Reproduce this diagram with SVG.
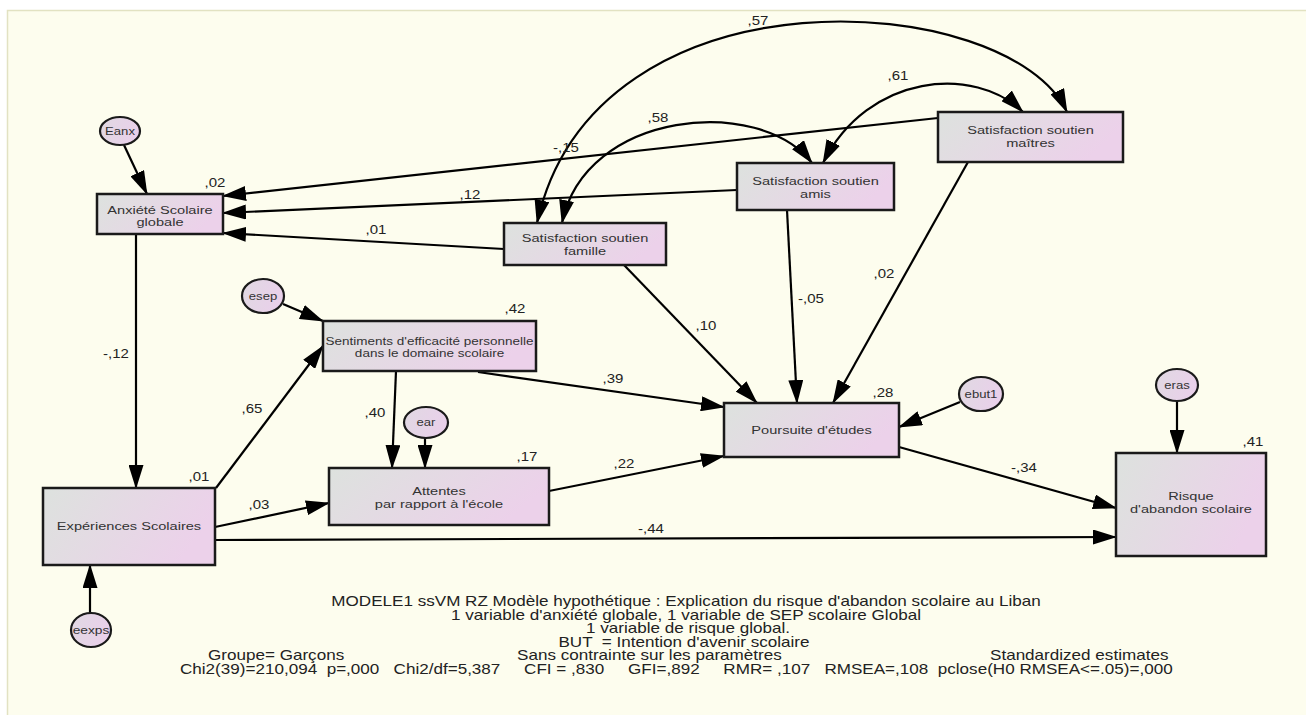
<svg xmlns="http://www.w3.org/2000/svg" width="1306" height="715" viewBox="0 0 1306 715">
<style>
text{font-family:"Liberation Sans",Arial,sans-serif;}
.box{stroke:#1a1a1a;stroke-width:2.5;fill:url(#gb);}
.ell{stroke:#1a1a1a;stroke-width:2.2;fill:url(#ge);}
.lbl{font-size:11.5px;fill:#333;text-anchor:middle;}
.lbs{font-size:10.8px;fill:#333;text-anchor:middle;}
.el{font-size:10.5px;fill:#333;text-anchor:middle;}
.coef{font-size:12.5px;fill:#222;text-anchor:middle;}
.cap{font-size:14px;fill:#222;text-anchor:middle;}
.caps{font-size:14px;fill:#222;text-anchor:start;white-space:pre;}
.ln{fill:none;stroke:#000;stroke-width:2.2;marker-end:url(#ah);}
.cv{fill:none;stroke:#000;stroke-width:2.2;marker-end:url(#ah);marker-start:url(#ah);}
</style>
<defs>
<linearGradient id="gb" x1="0" y1="0" x2="1" y2="0.3">
<stop offset="0" stop-color="#dde2de"/>
<stop offset="1" stop-color="#ecd1ea"/>
</linearGradient>
<linearGradient id="ge" x1="0" y1="0" x2="1" y2="0.3">
<stop offset="0" stop-color="#e0d9e2"/>
<stop offset="1" stop-color="#e9d0ea"/>
</linearGradient>
<marker id="ah" viewBox="0 0 24 15" refX="23" refY="7.5" markerWidth="24" markerHeight="15" markerUnits="userSpaceOnUse" orient="auto-start-reverse">
<path d="M0,0 L24,7.5 L0,15 z" fill="#000"/>
</marker>
</defs>
<rect x="0" y="0" width="1306" height="715" fill="#ffffff"/>
<rect x="7.5" y="10.5" width="1310" height="720" fill="#fdfdee" stroke="#e2e2c2" stroke-width="1.5"/>

<g id="connectors">
<path class="ln" d="M124,145 L147,194"/>
<path class="ln" d="M938,118 L223,196"/>
<path class="ln" d="M737,190 L223,213"/>
<path class="ln" d="M504,249 L223,233"/>
<path class="ln" d="M136,234 L136,488"/>
<path class="ln" d="M216,488 L323,346"/>
<path class="ln" d="M283,304 L323,321"/>
<path class="ln" d="M396,371 L392,468"/>
<path class="ln" d="M425,438 L425,468"/>
<path class="ln" d="M215,527 L329,503"/>
<path class="ln" d="M215,540 L1116,537"/>
<path class="ln" d="M549,491 L724,456"/>
<path class="ln" d="M478,372 L724,407"/>
<path class="ln" d="M624,265 L757,403"/>
<path class="ln" d="M787,210 L797,403"/>
<path class="ln" d="M968,162 L833,403"/>
<path class="ln" d="M960,402 L899,427"/>
<path class="ln" d="M899,447 L1116,508"/>
<path class="ln" d="M1177,401 L1177,453"/>
<path class="ln" d="M90,613 L90,565"/>
<path class="cv" d="M537,223 C595,-40 1010,-10 1067,112"/>
<path class="cv" d="M823,163 C868,73 975,65 1023,112"/>
<path class="cv" d="M562,223 C585,110 760,95 812,163"/>
</g>

<g id="path-labels">
<text class="coef" transform="translate(566,152) scale(1.2,1)">-,15</text>
<text class="coef" transform="translate(470,199) scale(1.2,1)">,12</text>
<text class="coef" transform="translate(376,234) scale(1.2,1)">,01</text>
<text class="coef" transform="translate(658,122) scale(1.2,1)">,58</text>
<text class="coef" transform="translate(758,25) scale(1.2,1)">,57</text>
<text class="coef" transform="translate(898,80) scale(1.2,1)">,61</text>
<text class="coef" transform="translate(116,358) scale(1.2,1)">-,12</text>
<text class="coef" transform="translate(252,413) scale(1.2,1)">,65</text>
<text class="coef" transform="translate(375,417) scale(1.2,1)">,40</text>
<text class="coef" transform="translate(259,509) scale(1.2,1)">,03</text>
<text class="coef" transform="translate(651,533) scale(1.2,1)">-,44</text>
<text class="coef" transform="translate(624,468) scale(1.2,1)">,22</text>
<text class="coef" transform="translate(613,383) scale(1.2,1)">,39</text>
<text class="coef" transform="translate(706,330) scale(1.2,1)">,10</text>
<text class="coef" transform="translate(811,303) scale(1.2,1)">-,05</text>
<text class="coef" transform="translate(884,278) scale(1.2,1)">,02</text>
<text class="coef" transform="translate(1024,472) scale(1.2,1)">-,34</text>
</g>

<g id="n-eanx">
<ellipse class="ell" cx="120" cy="131" rx="20" ry="14"/>
<text class="el" transform="translate(120,135) scale(1.25,1)">Eanx</text>
</g>
<g id="n-anxiete">
<rect class="box" x="97" y="194" width="126" height="40"/>
<text class="lbl" transform="translate(160,214) scale(1.27,1)">Anxiété Scolaire</text>
<text class="lbl" transform="translate(160,226) scale(1.27,1)">globale</text>
<text class="coef" transform="translate(215,187) scale(1.2,1)">,02</text>
</g>
<g id="n-famille">
<rect class="box" x="504" y="223" width="162" height="42"/>
<text class="lbl" transform="translate(585,242) scale(1.27,1)">Satisfaction soutien</text>
<text class="lbl" transform="translate(585,255) scale(1.27,1)">famille</text>
</g>
<g id="n-amis">
<rect class="box" x="737" y="163" width="157" height="47"/>
<text class="lbl" transform="translate(815.5,185) scale(1.27,1)">Satisfaction soutien</text>
<text class="lbl" transform="translate(815.5,198) scale(1.27,1)">amis</text>
</g>
<g id="n-maitres">
<rect class="box" x="938" y="112" width="185" height="50"/>
<text class="lbl" transform="translate(1030.5,134) scale(1.27,1)">Satisfaction soutien</text>
<text class="lbl" transform="translate(1030.5,147) scale(1.27,1)">maîtres</text>
</g>
<g id="n-esep">
<ellipse class="ell" cx="263" cy="296" rx="21" ry="17"/>
<text class="el" transform="translate(263,299.5) scale(1.25,1)">esep</text>
</g>
<g id="n-sep">
<rect class="box" x="323" y="321" width="213" height="50"/>
<text class="lbs" transform="translate(429.5,345) scale(1.25,1)">Sentiments d'efficacité personnelle</text>
<text class="lbs" transform="translate(429.5,356.5) scale(1.25,1)">dans le domaine scolaire</text>
<text class="coef" transform="translate(515,313) scale(1.2,1)">,42</text>
</g>
<g id="n-ear">
<ellipse class="ell" cx="426" cy="422.5" rx="22" ry="15.5"/>
<text class="el" transform="translate(426,426) scale(1.25,1)">ear</text>
</g>
<g id="n-attentes">
<rect class="box" x="329" y="468" width="220" height="57"/>
<text class="lbl" transform="translate(439,495) scale(1.27,1)">Attentes</text>
<text class="lbl" transform="translate(439,508) scale(1.27,1)">par rapport à l'école</text>
<text class="coef" transform="translate(527,461) scale(1.2,1)">,17</text>
</g>
<g id="n-experiences">
<rect class="box" x="43" y="488" width="172" height="77"/>
<text class="lbl" transform="translate(129,530) scale(1.27,1)">Expériences Scolaires</text>
<text class="coef" transform="translate(199,481) scale(1.2,1)">,01</text>
</g>
<g id="n-eexps">
<ellipse class="ell" cx="91" cy="630" rx="20" ry="17"/>
<text class="el" style="font-size:11px" transform="translate(91,634) scale(1.25,1)">eexps</text>
</g>
<g id="n-poursuite">
<rect class="box" x="724" y="403" width="175" height="54"/>
<text class="lbl" transform="translate(811.5,434) scale(1.27,1)">Poursuite d'études</text>
<text class="coef" transform="translate(883,397) scale(1.2,1)">,28</text>
</g>
<g id="n-ebut1">
<ellipse class="ell" cx="981" cy="394" rx="22" ry="17"/>
<text class="el" transform="translate(981,397.5) scale(1.25,1)">ebut1</text>
</g>
<g id="n-eras">
<ellipse class="ell" cx="1177" cy="385" rx="21" ry="16"/>
<text class="el" transform="translate(1177,388.5) scale(1.25,1)">eras</text>
</g>
<g id="n-risque">
<rect class="box" x="1116" y="453" width="150" height="103"/>
<text class="lbl" transform="translate(1191,500) scale(1.27,1)">Risque</text>
<text class="lbl" transform="translate(1191,513) scale(1.27,1)">d'abandon scolaire</text>
<text class="coef" transform="translate(1253,446) scale(1.2,1)">,41</text>
</g>

<g id="caption">
<text class="cap" transform="translate(686,606) scale(1.22,1)">MODELE1 ssVM RZ Modèle hypothétique : Explication du risque d'abandon scolaire au Liban</text>
<text class="cap" transform="translate(686,619.5) scale(1.22,1)">1 variable d'anxiété globale, 1 variable de SEP scolaire Global</text>
<text class="cap" transform="translate(688,633) scale(1.22,1)">1 variable de risque global.</text>
<text class="cap" xml:space="preserve" transform="translate(684,646.5) scale(1.22,1)">BUT  = Intention d'avenir scolaire</text>
<text class="caps" transform="translate(208,660) scale(1.22,1)">Groupe= Garçons</text>
<text class="caps" transform="translate(517,660) scale(1.22,1)">Sans contrainte sur les paramètres</text>
<text class="caps" transform="translate(990,660) scale(1.22,1)">Standardized estimates</text>
<text class="caps" xml:space="preserve" transform="translate(180,673.5) scale(1.22,1)">Chi2(39)=210,094  p=,000   Chi2/df=5,387     CFI = ,830     GFI=,892     RMR= ,107   RMSEA=,108  pclose(H0 RMSEA&lt;=.05)=,000</text>
</g>
</svg>
